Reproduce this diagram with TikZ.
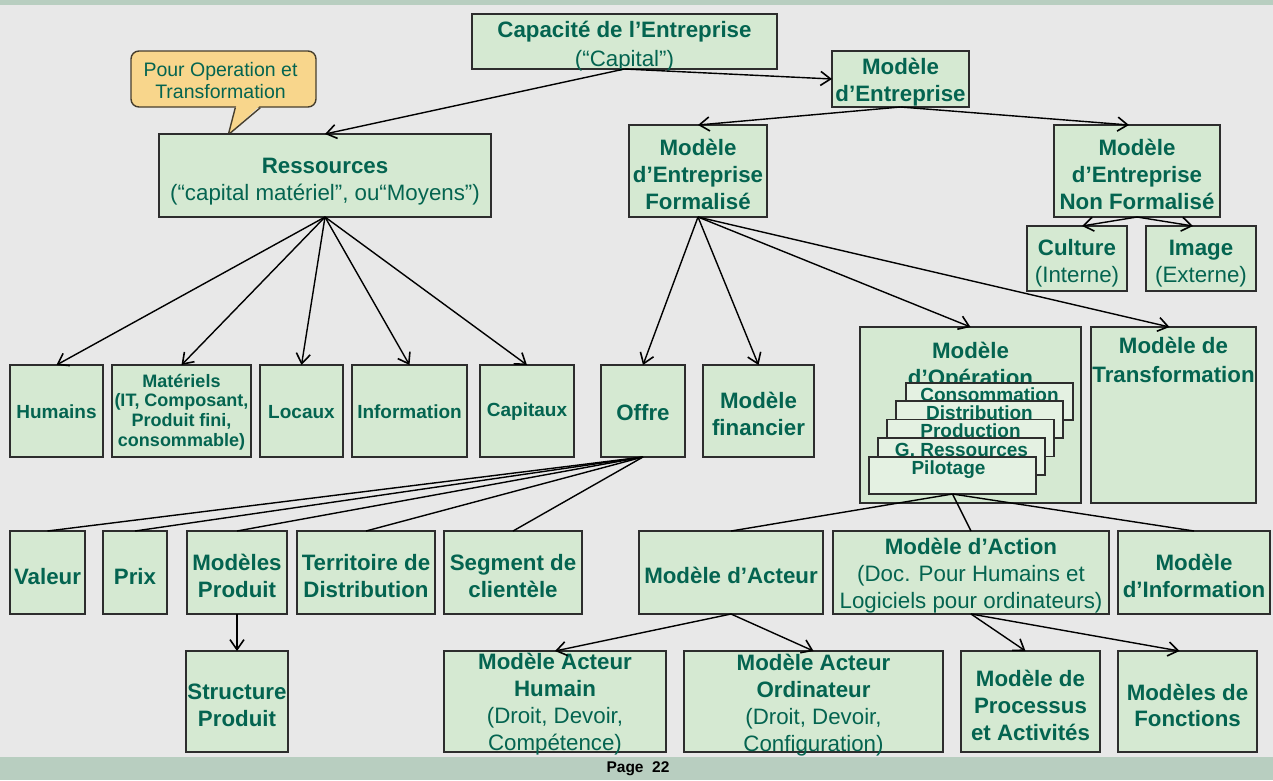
\documentclass[tikz,border=0pt]{standalone}
\usepackage{fontspec}
\setmainfont{Liberation Sans}
\usetikzlibrary{arrows.meta,calc}

\definecolor{bgc}{RGB}{232,232,232}
\definecolor{barc}{RGB}{184,206,192}
\definecolor{boxc}{RGB}{213,233,210}
\definecolor{subc}{RGB}{228,241,226}
\definecolor{tgreen}{RGB}{4,100,80}
\definecolor{edgec}{RGB}{45,45,45}
\definecolor{callc}{RGB}{248,214,140}
\definecolor{calle}{RGB}{70,62,45}

\tikzset{
  gbox/.style={draw=edgec, line width=1.5pt, fill=boxc, inner sep=0pt, outer sep=0pt},
  subbox/.style={gbox, fill=subc, minimum width=167pt, minimum height=37pt},
  bsz/.style 2 args={minimum width=#1pt, minimum height=#2pt},
  tbig/.style={text=tgreen, align=center, inner sep=0pt, font=\fontsize{22.3}{27}\selectfont},
  tbigb/.style={tbig, font=\fontsize{22.3}{27}\selectfont\bfseries},
  tmid/.style={text=tgreen, align=center, inner sep=0pt, font=\fontsize{19}{22}\selectfont\bfseries},
  tsmall/.style={text=tgreen, align=center, inner sep=0pt, font=\fontsize{18}{19.6}\selectfont\bfseries},
  subtxt/.style={tmid, text height=14pt, text depth=4pt},
  arr/.style={draw=black, line width=1.4pt, -{Straight Barb[length=10pt,width=14pt,line width=1.6pt]}},
  ln/.style={draw=black, line width=1.4pt},
}

\begin{document}
\begin{tikzpicture}[x=1pt, y=-1pt]
  % page background and bars
  \useasboundingbox (0,0) rectangle (1273,780);
  \fill[bgc] (0,0) rectangle (1273,780);
  \fill[barc] (0,0) rectangle (1273,5);
  \fill[barc] (0,757) rectangle (1273,780);
  \node[font=\fontsize{15.5}{18}\selectfont\bfseries, inner sep=0pt] (page) at (638,769) {Page~~22};

  % top levels
  \node[gbox, bsz={305}{55}] (cap) at (624.5,41.5) {};
  \node[tbig] (cap-t) at ($(cap)+(0,5)$) {{\bfseries Capacité de l’Entreprise}\\[2pt](“Capital”)};

  \node[gbox, bsz={137}{56}] (me) at (900.5,79) {};
  \node[tbigb] (me-t) at ($(me)+(0,3)$) {Modèle\\d’Entreprise};

  % callout
  \node[draw=calle, line width=1.4pt, fill=callc, rounded corners=8pt, inner sep=0pt,
        minimum width=185pt, minimum height=56pt] (call) at (223.5,79) {};
  \fill[callc] ($(call.south west)+(106,-1.6)$) -- ($(call.south west)+(98,27)$)
     -- ($(call.south west)+(129,-1.6)$) -- cycle;
  \draw[calle, line width=1.4pt, line join=round]
     ($(call.south west)+(105,0)$) -- ($(call.south west)+(98,27)$) -- ($(call.south west)+(130,0)$);
  \node[text=tgreen, align=center, inner sep=0pt, font=\fontsize{19.5}{22}\selectfont] (call-t)
     at ($(call)+(-3,2)$) {Pour Operation et\\Transformation};

  \node[gbox, bsz={332}{83}] (res) at (325,175.5) {};
  \node[tbig] (res-t) at ($(res)+(0,6)$) {{\bfseries Ressources}\\(“capital matériel”, ou“Moyens”)};

  \node[gbox, bsz={138}{92}] (mef) at (698,171) {};
  \node[tbigb] (mef-t) at ($(mef)+(0,3.5)$) {Modèle\\d’Entreprise\\Formalisé};

  \node[gbox, bsz={166}{92}] (menf) at (1137,171) {};
  \node[tbigb] (menf-t) at ($(menf)+(0,3.5)$) {Modèle\\d’Entreprise\\Non Formalisé};

  \node[gbox, bsz={100}{65}] (cult) at (1077,258.5) {};
  \node[tbig] (cult-t) at ($(cult)+(0,5)$) {{\bfseries Culture}\\(Interne)};
  \node[gbox, bsz={110}{65}] (img) at (1201,258.5) {};
  \node[tbig] (img-t) at ($(img)+(0,5)$) {{\bfseries Image}\\(Externe)};

  % resources row
  \node[gbox, bsz={93}{92}] (hum) at (56.5,411) {};
  \node[tmid] (hum-t) at ($(hum)+(0,1)$) {Humains};
  \node[gbox, bsz={139}{92}] (mat) at (181.5,411) {};
  \node[tsmall] (mat-t) at ($(mat)+(0,1)$) {Matériels\\(IT, Composant,\\Produit fini,\\consommable)};
  \node[gbox, bsz={83}{92}] (loc) at (301.5,411) {};
  \node[tmid] (loc-t) at ($(loc)+(0,1)$) {Locaux};
  \node[gbox, bsz={115}{92}] (inf) at (409.5,411) {};
  \node[tmid] (inf-t) at ($(inf)+(0,1)$) {Information};
  \node[gbox, bsz={94}{92}] (capx) at (527,411) {};
  \node[tmid] (capx-t) at ($(capx)+(0,1)$) {Capitaux};

  % formal model row
  \node[gbox, bsz={84}{92}] (off) at (643,411) {};
  \node[tbigb] (off-t) at ($(off)+(0,2)$) {Offre};
  \node[gbox, bsz={111}{92}] (fin) at (758.5,411) {};
  \node[tbigb] (fin-t) at ($(fin)+(0,3)$) {Modèle\\financier};

  \node[gbox, bsz={221}{176}] (op) at (970.5,415) {};
  \node[tbigb] (op-t) at (970.5,366) {Modèle\\d’Opération};
  \node[gbox, bsz={165}{176}] (tr) at (1173.5,415) {};
  \node[tbig, font=\fontsize{22.3}{29}\selectfont\bfseries] (tr-t) at (1173.5,360) {Modèle de\\Transformation};

  % stacked operation sheets, back to front
  \node[subbox] (cons) at (989.5,401.5) {};
  \node[subtxt] (cons-t) at ($(cons.north)+(0,13)$) {Consommation};
  \node[subbox] (dist) at (979.5,419.5) {};
  \node[subtxt] (dist-t) at ($(dist.north)+(0,13)$) {Distribution};
  \node[subbox] (prod) at (970.5,438) {};
  \node[subtxt] (prod-t) at ($(prod.north)+(0,13)$) {Production};
  \node[subbox] (gres) at (961.5,456.5) {};
  \node[subtxt] (gres-t) at ($(gres.north)+(0,13)$) {G. Ressources};
  \node[subbox] (pil) at (952.5,475.5) {};
  \node[subtxt] (pil-t) at ($(pil.north)+(-4,12)$) {Pilotage};

  % offer row
  \node[gbox, bsz={75}{83}] (val) at (47.5,572.5) {};
  \node[tbigb] (val-t) at ($(val)+(0,4)$) {Valeur};
  \node[gbox, bsz={64}{83}] (prix) at (135,572.5) {};
  \node[tbigb] (prix-t) at ($(prix)+(0,4)$) {Prix};
  \node[gbox, bsz={100}{83}] (mp) at (237,572.5) {};
  \node[tbigb] (mp-t) at ($(mp)+(0,3.5)$) {Modèles\\Produit};
  \node[gbox, bsz={138}{83}] (ter) at (366,572.5) {};
  \node[tbigb] (ter-t) at ($(ter)+(0,3.5)$) {Territoire de\\Distribution};
  \node[gbox, bsz={138}{83}] (seg) at (513,572.5) {};
  \node[tbigb] (seg-t) at ($(seg)+(0,3.5)$) {Segment de\\clientèle};

  % operation sub-models
  \node[gbox, bsz={184}{83}] (act) at (731,572.5) {};
  \node[tbigb] (act-t) at ($(act)+(0,3)$) {Modèle d’Acteur};
  \node[gbox, bsz={276}{83}] (acn) at (971,572.5) {};
  \node[tbig] (acn-t) at ($(acn)+(0,3)$) {{\bfseries Modèle d’Action}\\(Doc. Pour Humains et\\Logiciels pour ordinateurs)};
  \node[gbox, bsz={152}{83}] (minf) at (1194,572.5) {};
  \node[tbigb] (minf-t) at ($(minf)+(0,3.5)$) {Modèle\\d’Information};

  % bottom row
  \node[gbox, bsz={102}{101}] (sp) at (237,701.5) {};
  \node[tbigb] (sp-t) at ($(sp)+(0,4)$) {Structure\\Produit};
  \node[gbox, bsz={222}{101}] (hh) at (555,701.5) {};
  \node[tbig] (hh-t) at ($(hh)+(0,3)$) {{\bfseries Modèle Acteur}\\{\bfseries Humain}\\(Droit, Devoir,\\Compétence)};
  \node[gbox, bsz={259}{101}] (ho) at (813.5,701.5) {};
  \node[tbig] (ho-t) at ($(ho)+(0,3.5)$) {{\bfseries Modèle Acteur}\\{\bfseries Ordinateur}\\(Droit, Devoir,\\Configuration)};
  \node[gbox, bsz={139}{101}] (proc) at (1030.5,701.5) {};
  \node[tbigb] (proc-t) at ($(proc)+(0,3.5)$) {Modèle de\\Processus\\et Activités};
  \node[gbox, bsz={139}{101}] (fon) at (1187.5,701.5) {};
  \node[tbig, font=\fontsize{22.3}{26}\selectfont\bfseries] (fon-t) at ($(fon)+(0,3.5)$) {Modèles de\\Fonctions};

  % connectors
  \draw[arr] (cap.south) -- (res.north);
  \draw[arr] (cap.south) -- (me.west);
  \draw[arr] (me.south) -- (mef.north);
  \draw[arr] (me.south) -- ($(menf.north)+(-8,0)$);
  \draw[arr] (menf.south) -- ($(cult.north)+(5,0)$);
  \draw[arr] (menf.south) -- ($(img.north)+(-8,0)$);

  \foreach \t in {hum,mat,loc,inf,capx}
    \draw[arr] (res.south) -- (\t.north);

  \foreach \t in {off,fin,op}
    \draw[arr] (mef.south) -- (\t.north);
  \draw[arr] (mef.south) -- ($(tr.north)+(-4,0)$);

  \foreach \t in {val,prix,mp,ter,seg}
    \draw[ln] (off.south) -- (\t.north);
  \draw[arr] (mp.south) -- (sp.north);

  \foreach \t in {act,acn,minf}
    \draw[ln] (pil.south) -- (\t.north);

  \draw[arr] (act.south) -- (hh.north);
  \draw[arr] (act.south) -- (ho.north);
  \draw[arr] (acn.south) -- ($(proc.north)+(-5,0)$);
  \draw[arr] (acn.south) -- ($(fon.north)+(-8,0)$);
\end{tikzpicture}
\end{document}
